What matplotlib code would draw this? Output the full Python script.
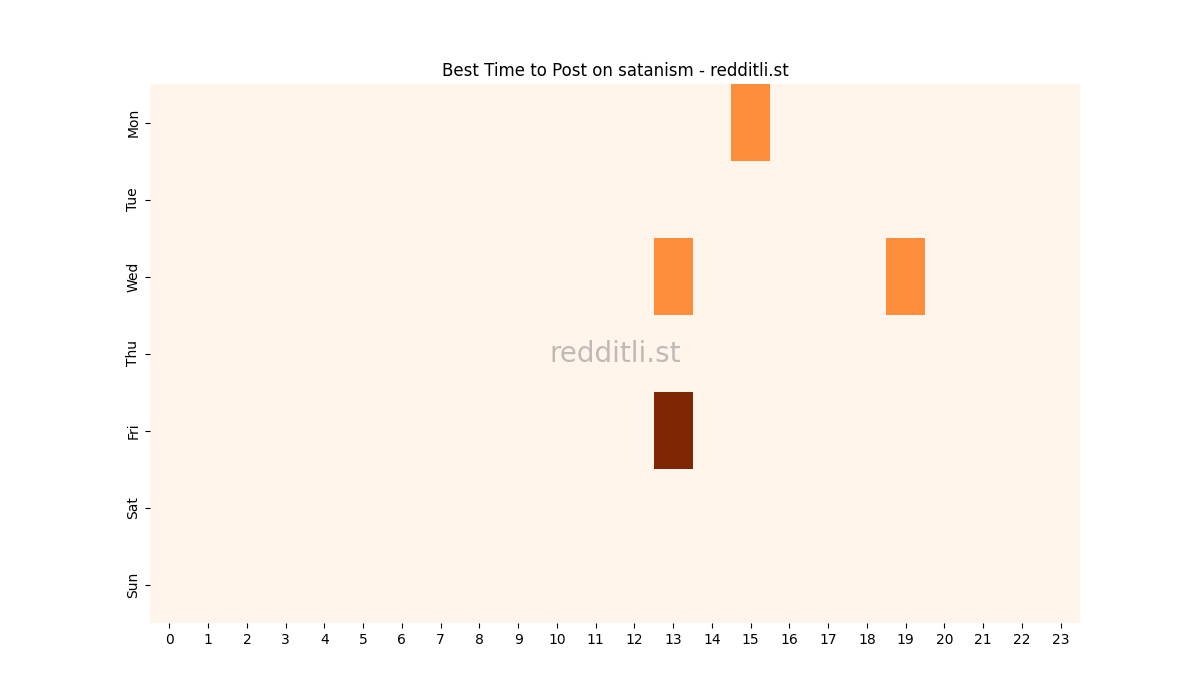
import matplotlib
matplotlib.use("Agg")
import matplotlib.pyplot as plt
import numpy as np
import pandas as pd
import seaborn as sns

DAYS = ["Mon", "Tue", "Wed", "Thu", "Fri", "Sat", "Sun"]
HOURS = list(range(24))

# post counts per (day, hour); everything else is zero
MON = {15: 1}
TUE = {}
WED = {13: 1, 19: 1}
THU = {}
FRI = {13: 2}
SAT = {}
SUN = {}

rows = [MON, TUE, WED, THU, FRI, SAT, SUN]
data = pd.DataFrame([[r.get(h, 0) for h in HOURS] for r in rows],
                    index=DAYS, columns=HOURS)

fig, ax = plt.subplots(figsize=(12, 7), dpi=100)
sns.heatmap(data, cmap="Oranges", cbar=False, ax=ax, vmin=0, vmax=2)
ax.set_title("Best Time to Post on satanism - redditli.st")
ax.text(0.5, 0.5, "redditli.st", transform=ax.transAxes,
        ha="center", va="center", fontsize=20, color="gray", alpha=0.5)
ax.tick_params(axis="x", rotation=0)
fig.savefig("out.png")
